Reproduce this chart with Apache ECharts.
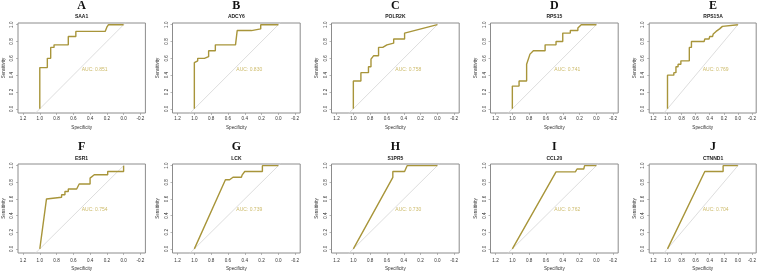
<!DOCTYPE html>
<html>
<head>
<meta charset="utf-8">
<script src="https://cdn.jsdelivr.net/npm/echarts@6/dist/echarts.min.js"></script>
<style>
  html, body { margin: 0; padding: 0; background: #fff; }
  #chart { width: 778px; height: 272px; }
</style>
</head>
<body>
<div id="chart"></div>
<script>
// panel labels, gene names and AUC values
const letters = ["A", "B", "C", "D", "E", "F", "G", "H", "I", "J"];
const genes = ["SAA1", "ADCY6", "POLR2K", "RPS15", "RPS15A", "ESR1", "LCK", "S1PR5", "CCL20", "CTNND1"];
const aucs = [0.851, 0.830, 0.758, 0.741, 0.769, 0.754, 0.739, 0.730, 0.762, 0.704];

// ROC curves (specificity, sensitivity)
const specA = [1, 1, 0.91, 0.91, 0.87, 0.87, 0.83, 0.83, 0.66, 0.66, 0.57, 0.57, 0.22, 0.20, 0.18, 0];
const sensA = [0, 0.49, 0.49, 0.60, 0.60, 0.73, 0.73, 0.76, 0.76, 0.86, 0.86, 0.92, 0.92, 0.97, 1, 1];
const specB = [1, 1, 0.99, 0.96, 0.96, 0.88, 0.88, 0.83, 0.83, 0.75, 0.75, 0.51, 0.49, 0.49, 0.32, 0.32, 0.21, 0.21, 0];
const sensB = [0, 0.55, 0.57, 0.57, 0.60, 0.60, 0.62, 0.62, 0.69, 0.69, 0.76, 0.76, 0.78, 0.93, 0.93, 0.95, 0.95, 1, 1];
const specC = [1, 1, 0.91, 0.91, 0.82, 0.82, 0.79, 0.79, 0.76, 0.70, 0.70, 0.65, 0.60, 0.52, 0.52, 0.39, 0.39, 0];
const sensC = [0, 0.33, 0.33, 0.43, 0.43, 0.50, 0.50, 0.59, 0.63, 0.63, 0.73, 0.73, 0.76, 0.78, 0.83, 0.83, 0.90, 1];
const specD = [1, 1, 0.92, 0.92, 0.83, 0.83, 0.81, 0.79, 0.75, 0.61, 0.61, 0.48, 0.48, 0.40, 0.40, 0.31, 0.31, 0.22, 0.22, 0.18, 0];
const sensD = [0, 0.27, 0.27, 0.33, 0.33, 0.53, 0.53, 0.65, 0.69, 0.69, 0.76, 0.76, 0.80, 0.80, 0.90, 0.90, 0.93, 0.93, 0.96, 1, 1];
const specE = [1, 1, 0.91, 0.91, 0.88, 0.88, 0.85, 0.85, 0.81, 0.81, 0.69, 0.69, 0.66, 0.66, 0.48, 0.47, 0.41, 0.40, 0.36, 0.35, 0.31, 0.26, 0.22, 0.20, 0];
const sensE = [0, 0.40, 0.40, 0.43, 0.43, 0.50, 0.50, 0.53, 0.53, 0.57, 0.57, 0.73, 0.73, 0.80, 0.80, 0.83, 0.83, 0.86, 0.86, 0.89, 0.92, 0.95, 0.98, 1, 1];
const specF = [1, 0.92, 0.90, 0.74, 0.74, 0.70, 0.70, 0.66, 0.66, 0.56, 0.53, 0.40, 0.40, 0.35, 0.19, 0.19, 0, 0];
const sensF = [0, 0.60, 0.62, 0.62, 0.65, 0.65, 0.69, 0.69, 0.72, 0.72, 0.78, 0.78, 0.85, 0.89, 0.89, 0.93, 0.93, 1];
const specG = [1, 0.63, 0.58, 0.54, 0.44, 0.43, 0.40, 0.19, 0.19, 0];
const sensG = [0, 0.83, 0.83, 0.86, 0.86, 0.89, 0.93, 0.93, 1, 1];
const specH = [1, 0.53, 0.53, 0.39, 0.36, 0];
const sensH = [0, 0.86, 0.93, 0.93, 1, 1];
const specI = [1, 0.48, 0.25, 0.23, 0.15, 0.14, 0];
const sensI = [0, 0.925, 0.925, 0.96, 0.96, 1, 1];
const specJ = [1, 0.47, 0.21, 0.21, 0];
const sensJ = [0, 0.93, 0.93, 1, 1];

const specs = [specA, specB, specC, specD, specE, specF, specG, specH, specI, specJ];
const senss = [sensA, sensB, sensC, sensD, sensE, sensF, sensG, sensH, sensI, sensJ];

const xTicks = [-0.2, 0, 0.2, 0.4, 0.6, 0.8, 1.0, 1.2];
const yTicks = [0, 0.2, 0.4, 0.6, 0.8, 1.0];

// layout
const colLeft = [17.7, 172.5, 331.5, 490.5, 649.2];
const rowTop = [23, 164];
const boxW = 127.7;
const boxH = 90;
const rowLabelMargin = [3, 5];
const rowNameGap = [12.5, 13];
const letterY = [6.3, 146.5];
const geneY = [16.7, 158.3];

const curveColor = "#a8953a";
const aucColor = "#c1aa45";
const textColor = "#333";

const grids = [], xAxes = [], yAxes = [], series = [], graphics = [];

letters.forEach((letter, i) => {
  const row = Math.floor(i / 5);
  const col = i % 5;
  const left = colLeft[col];
  const top = rowTop[row];
  grids.push({
    left: left, top: top, width: boxW, height: boxH,
    show: true, borderColor: "#8c8c8c", borderWidth: 1, backgroundColor: "transparent",
  });
  xAxes.push({
    gridIndex: i, type: "value", min: -0.26, max: 1.26, inverse: true,
    name: "Specificity", nameLocation: "middle", nameGap: rowNameGap[row],
    nameTextStyle: { fontSize: 4.6, color: textColor, fontFamily: "Liberation Sans" },
    axisLine: { show: false, onZero: false },
    axisTick: { show: true, inside: false, length: 2, customValues: xTicks, lineStyle: { color: "#8c8c8c", width: 0.6 } },
    axisLabel: {
      show: true, customValues: xTicks, margin: rowLabelMargin[row],
      fontSize: 4.6, color: textColor, fontFamily: "Liberation Sans",
      formatter: (v) => v.toFixed(1),
    },
    splitLine: { show: false },
  });
  yAxes.push({
    gridIndex: i, type: "value", min: -0.05, max: 1.02,
    name: "Sensitivity", nameLocation: "middle", nameGap: 12,
    nameTextStyle: { fontSize: 4.6, color: textColor, fontFamily: "Liberation Sans" },
    axisLine: { show: false, onZero: false },
    axisTick: { show: true, inside: false, length: 2, customValues: yTicks, lineStyle: { color: "#8c8c8c", width: 0.6 } },
    axisLabel: {
      show: true, customValues: yTicks, margin: 3.5, rotate: 90,
      fontSize: 4.6, color: textColor, fontFamily: "Liberation Sans",
      formatter: (v) => v.toFixed(1),
    },
    splitLine: { show: false },
  });
  // diagonal reference line
  series.push({
    type: "line", xAxisIndex: i, yAxisIndex: i, silent: true, showSymbol: false,
    data: [[1.1, -0.1], [-0.1, 1.1]],
    lineStyle: { color: "#d4d4d4", width: 0.8 }, clip: true, z: 1,
  });
  // ROC curve
  series.push({
    type: "line", xAxisIndex: i, yAxisIndex: i, silent: true, showSymbol: false,
    data: specs[i].map((s, k) => [s, senss[i][k]]),
    lineStyle: { color: curveColor, width: 1.4 }, z: 3,
  });
  // AUC text
  series.push({
    type: "scatter", xAxisIndex: i, yAxisIndex: i, silent: true, symbolSize: 0,
    data: [[0.5, 0.5]],
    label: {
      show: true, position: [0, 0], align: "left", verticalAlign: "top",
      formatter: "AUC: " + aucs[i].toFixed(3),
      fontSize: 5, color: aucColor, fontFamily: "Liberation Sans",
    },
    z: 4,
  });
  const cx = left + boxW / 2;
  graphics.push({
    type: "text", x: cx, y: letterY[row],
    style: { text: letter, fontSize: 12, fontWeight: "bold", fontFamily: "Liberation Serif", fill: "#111", align: "center", verticalAlign: "middle" },
  });
  graphics.push({
    type: "text", x: cx, y: geneY[row],
    style: { text: genes[i], fontSize: 5, fontWeight: "bold", fontFamily: "Liberation Sans", fill: "#222", align: "center", verticalAlign: "middle" },
  });
});

const chart = echarts.init(document.getElementById("chart"), null, { renderer: "canvas" });
chart.setOption({
  animation: false,
  backgroundColor: "#fff",
  grid: grids,
  xAxis: xAxes,
  yAxis: yAxes,
  series: series,
  graphic: graphics,
});
</script>
</body>
</html>
